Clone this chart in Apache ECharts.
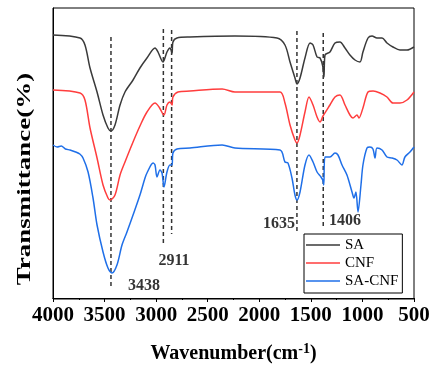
<!DOCTYPE html>
<html>
<head>
<meta charset="utf-8">
<script src="https://cdn.jsdelivr.net/npm/echarts@6/dist/echarts.min.js"></script>
<style>html,body{margin:0;padding:0;background:#fff;}#c{width:444px;height:376px;}</style>
</head>
<body>
<div id="c"></div>
<script>
const xTicks = [500, 1000, 1500, 2000, 2500, 3000, 3500, 4000];
const seriesNames = ['SA', 'CNF', 'SA-CNF'];
const saData = [[4000,263],[3738,260],[3690,253],[3641,230],[3573,206],[3515,183],[3467,170],[3438,167],[3399,173],[3350,193],[3302,206],[3224,218],[3157,230],[3089,240],[3011,250],[2982,246],[2934,236],[2895,246],[2866,250],[2846,245],[2837,256],[2798,260],[2672,261],[2236,262],[1828,260],[1751,253],[1702,236],[1654,220],[1634,214],[1605,220],[1557,240],[1508,255],[1479,253],[1440,241],[1411,240],[1385,232],[1373,221],[1363,243],[1315,246],[1266,255],[1218,256],[1169,250],[1121,243],[1072,238],[1024,236],[995,246],[946,260],[907,262],[859,260],[810,260],[762,255],[704,251],[636,248],[568,248],[500,251]];
const cnfData = [[4000,208],[3738,205],[3690,198],[3641,170],[3573,140],[3515,113],[3467,100],[3447,98],[3399,103],[3350,123],[3302,136],[3224,156],[3157,172],[3089,186],[3011,195],[2972,191],[2924,183],[2895,193],[2866,196],[2846,193],[2837,201],[2788,206],[2672,207],[2360,209],[2236,206],[1799,206],[1751,195],[1702,173],[1654,158],[1634,155],[1605,163],[1557,186],[1518,201],[1479,193],[1440,181],[1411,176],[1382,182],[1315,193],[1266,201],[1218,203],[1169,193],[1121,183],[1092,180],[1053,183],[1034,180],[995,190],[946,206],[897,207],[830,205],[762,201],[704,195],[636,195],[568,198],[500,206]];
const sacnfData = [[4000,153],[3960,151],[3920,152],[3880,149],[3835,148],[3780,146],[3740,144],[3709,140],[3660,126],[3612,100],[3573,73],[3515,46],[3467,30],[3428,25],[3380,33],[3331,53],[3283,66],[3224,83],[3157,103],[3108,120],[3089,125],[3030,135],[3011,133],[2992,121],[2963,128],[2943,125],[2924,111],[2895,126],[2866,133],[2846,133],[2837,145],[2798,149],[2672,150],[2360,153],[2236,150],[1799,148],[1751,136],[1722,135],[1683,120],[1654,103],[1634,98],[1605,106],[1557,133],[1518,143],[1479,136],[1440,126],[1402,121],[1385,118],[1375,113],[1363,141],[1315,141],[1266,145],[1237,143],[1198,133],[1150,123],[1101,106],[1082,100],[1063,106],[1043,86],[1014,113],[995,133],[956,150],[927,151],[898,149],[878,140],[859,150],[810,148],[762,141],[713,140],[665,138],[617,133],[588,141],[539,146],[500,151]];
const peakLineX = [3438, 2930, 2850, 1635, 1380];
const peakLineTop = [261, 269, 268, 267, 265];
const peakLineBottom = [11, 55, 64, 65, 72];
const peakLabels = ['3438', '2911', '1635', '1406'];
const peakLabelX = [3118, 2827, 1809, 1169];
const peakLabelY = [12, 37, 74, 77];
const colors = ['#3a3a3a', '#ff3d3d', '#1f6fe8'];

const chart = echarts.init(document.getElementById('c'), null, {renderer: 'canvas'});
const serif = '"Liberation Serif", "Times New Roman", serif';
const series = [];
[saData, cnfData, sacnfData].forEach((d, i) => {
  series.push({
    name: seriesNames[i], type: 'line', data: d, symbol: 'none', smooth: 0.3,
    lineStyle: {color: colors[i], width: 1.5}, itemStyle: {color: colors[i]}, z: 3
  });
});
peakLineX.forEach((x, i) => {
  series.push({
    type: 'line', data: [[x, peakLineTop[i]], [x, peakLineBottom[i]]], symbol: 'none',
    lineStyle: {color: '#333', width: 1.5, type: [4, 3]}, z: 2, silent: true
  });
});
series.push({
  type: 'scatter', symbolSize: 0, silent: true, z: 4,
  data: peakLabels.map((t, i) => ({value: [peakLabelX[i], peakLabelY[i]], name: t})),
  label: {show: true, position: 'inside', formatter: p => p.name, color: '#000',
    fontFamily: serif, fontWeight: 'bold', fontSize: 16}
});

chart.setOption({
  animation: false,
  backgroundColor: '#fff',
  grid: {left: 53, right: 30, top: 8, bottom: 77, show: true, borderColor: '#000', borderWidth: 1},
  legend: {
    data: seriesNames, orient: 'vertical', left: 304, top: 234, icon: 'rect',
    padding: [2, 4, 3, 2], itemGap: 0, itemWidth: 34, itemHeight: 1.5,
    borderColor: '#000', borderWidth: 1, backgroundColor: '#fff',
    textStyle: {fontFamily: serif, fontSize: 15, color: '#000', lineHeight: 18}
  },
  xAxis: {
    type: 'value', inverse: true, min: 500, max: 4000, interval: 500,
    axisLine: {show: true, lineStyle: {color: '#000', width: 1}},
    axisTick: {show: true, length: 4, lineStyle: {color: '#000'}},
    minorTick: {show: true, splitNumber: 2, length: 2, lineStyle: {color: '#000'}},
    splitLine: {show: false},
    axisLabel: {color: '#000', fontFamily: serif, fontWeight: 'bold', fontSize: 21, margin: 6,
      formatter: v => xTicks.includes(v) ? String(v) : ''},
    name: 'Wavenumber(cm{sup|-1})', nameLocation: 'middle', nameGap: 43,
    nameTextStyle: {color: '#000', fontFamily: serif, fontWeight: 'bold', fontSize: 20,
      rich: {sup: {fontFamily: serif, fontWeight: 'bold', fontSize: 14, verticalAlign: 'top', padding: [0, 0, 10, 0], color: '#000'}}}
  },
  yAxis: {
    type: 'value', min: -1, max: 290,
    axisLine: {show: true, lineStyle: {color: '#000'}},
    axisTick: {show: false}, axisLabel: {show: false}, splitLine: {show: false}
  },
  graphic: [{
    type: 'text', x: 25, y: 179, rotation: Math.PI / 2, scaleX: 1.5,
    style: {text: 'Transmittance(%)', font: 'bold 18px ' + serif, fill: '#000',
      textAlign: 'center', textVerticalAlign: 'middle'}
  }],
  series: series
});
</script>
</body>
</html>
